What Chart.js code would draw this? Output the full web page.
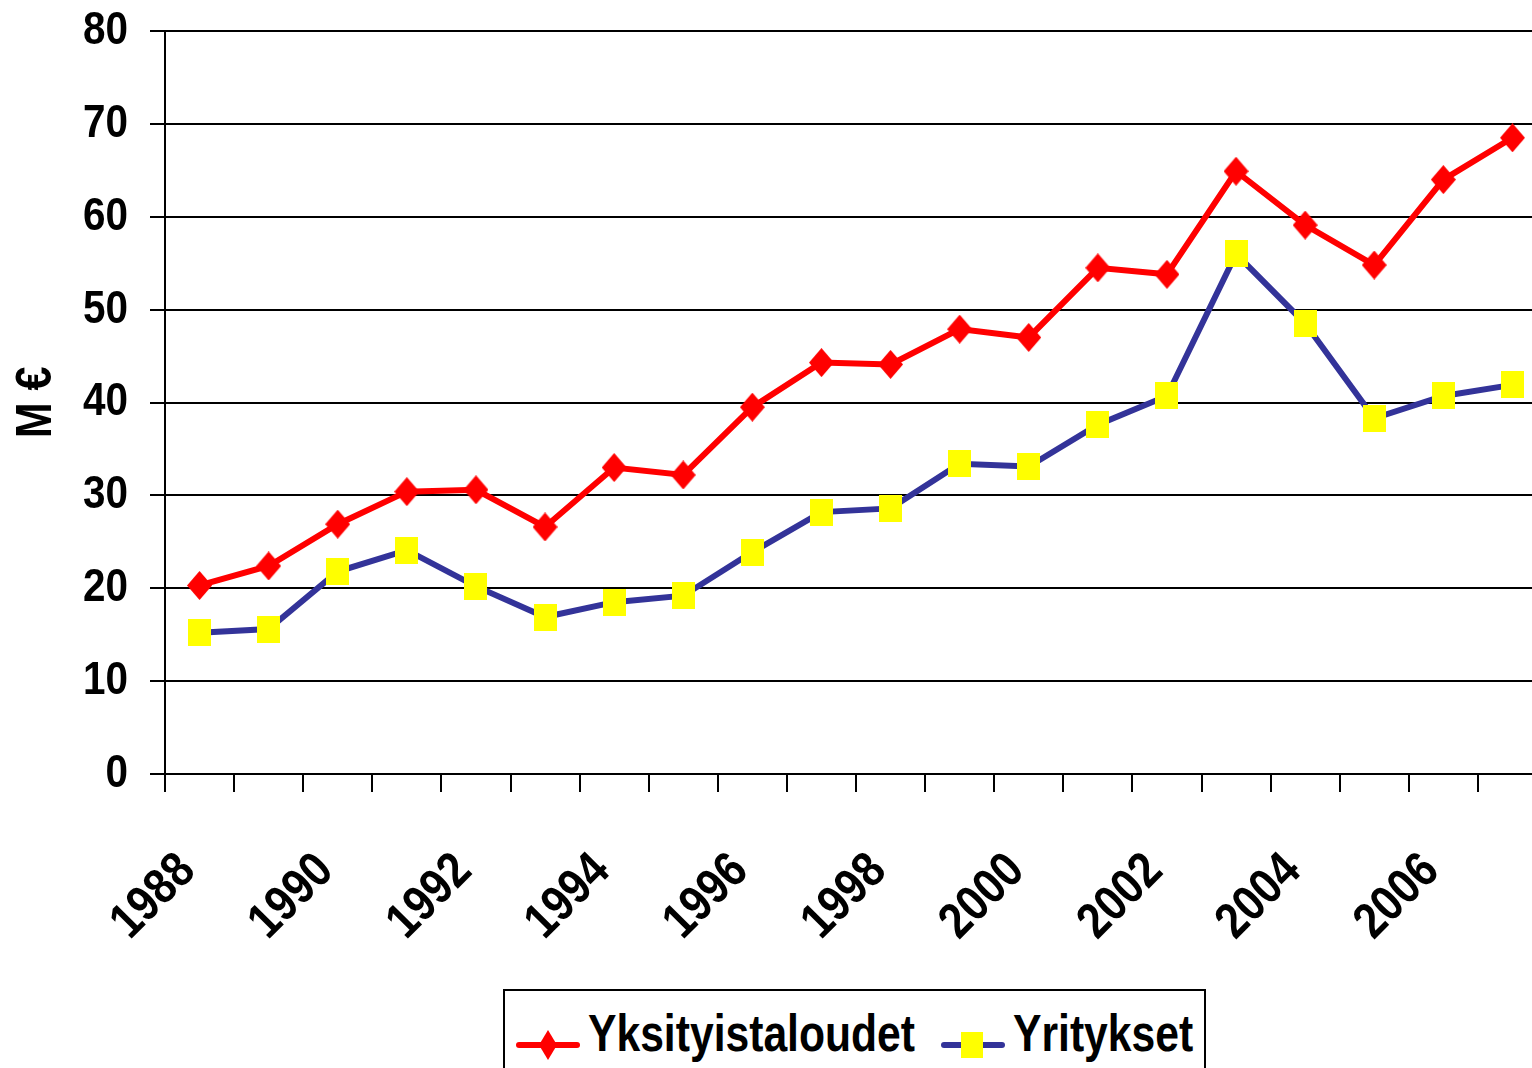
<!DOCTYPE html>
<html>
<head>
<meta charset="utf-8">
<script src="https://cdn.jsdelivr.net/npm/chart.js@4"></script>
<style>
  html, body { margin: 0; padding: 0; background: #fff; overflow: hidden; }
  #wrap { position: relative; width: 1532px; height: 1068px; overflow: hidden; }
  #chart { position: absolute; left: 0; top: 0; }
  #legend {
    position: absolute; left: 503px; top: 989px; width: 703px; height: 110px;
    border: 2px solid #000; box-sizing: border-box; background: #fff;
    font-family: 'Liberation Sans', Arial, sans-serif;
    font-weight: bold; font-size: 52px; line-height: 1;
  }
  #legend .sym { position: absolute; top: 25px; }
  #legend .txt { position: absolute; top: 16px; white-space: nowrap; color: #000;
    transform: scaleX(0.82); transform-origin: 0 0; }
</style>
</head>
<body>
<div id="wrap">
  <canvas id="chart" width="1560" height="1068"></canvas>
  <div id="legend"></div>
</div>
<script>
// vuodet ja sarjat (M€)
const years = ["1988", "1989", "1990", "1991", "1992", "1993", "1994", "1995", "1996", "1997",
  "1998", "1999", "2000", "2001", "2002", "2003", "2004", "2005", "2006", "2007"];
const yksityistaloudet = [20.3, 22.4, 26.9, 30.4, 30.6, 26.6, 33.0, 32.2, 39.5, 44.3,
  44.1, 47.9, 47.0, 54.5, 53.8, 64.9, 59.1, 54.8, 64.0, 68.5];
const yritykset = [15.2, 15.6, 21.8, 24.1, 20.2, 16.9, 18.5, 19.2, 23.9, 28.2,
  28.6, 33.4, 33.1, 37.6, 40.7, 56.0, 48.5, 38.3, 40.7, 41.9];
const seriesNames = ["Yksityistaloudet", "Yritykset"];
const yTicks = [0, 10, 20, 30, 40, 50, 60, 70, 80];

const fontFamily = "'Liberation Sans', Arial, sans-serif";
const NARROW = 0.86; // Arial Narrow -tyylinen kapea teksti

const canvas = document.getElementById("chart");
const ctx = canvas.getContext("2d");

// kavennetaan tekstiä vaakasuunnassa
const origFillText = ctx.fillText;
const origMeasure = ctx.measureText;
ctx.fillText = function (text, x, y) {
  this.save();
  this.translate(x, y);
  this.scale(NARROW, 1);
  origFillText.call(this, text, 0, 0);
  this.restore();
};
ctx.measureText = function (text) {
  const m = origMeasure.call(this, text);
  return {
    width: m.width * NARROW,
    actualBoundingBoxAscent: m.actualBoundingBoxAscent,
    actualBoundingBoxDescent: m.actualBoundingBoxDescent,
    actualBoundingBoxLeft: m.actualBoundingBoxLeft * NARROW,
    actualBoundingBoxRight: m.actualBoundingBoxRight * NARROW
  };
};

// merkit: vinoneliö ja neliö
function diamond(w, h, color) {
  const c = document.createElement("canvas");
  c.width = w; c.height = h;
  const g = c.getContext("2d");
  g.fillStyle = color;
  g.beginPath();
  g.moveTo(w / 2, 0); g.lineTo(w, h / 2); g.lineTo(w / 2, h); g.lineTo(0, h / 2);
  g.closePath(); g.fill();
  return c;
}
function box(w, h, color) {
  const c = document.createElement("canvas");
  c.width = w; c.height = h;
  const g = c.getContext("2d");
  g.fillStyle = color;
  g.fillRect(0, 0, w, h);
  return c;
}

const redMark = diamond(25, 29, "#ff0000");
const yellowMark = box(23, 27, "#ffff00");

new Chart(ctx, {
  type: "line",
  data: {
    labels: years,
    datasets: [
      {
        label: seriesNames[0],
        data: yksityistaloudet,
        borderColor: "#ff0000",
        borderWidth: 6,
        pointStyle: redMark,
        tension: 0,
        order: 2
      },
      {
        label: seriesNames[1],
        data: yritykset,
        borderColor: "#333399",
        borderWidth: 6,
        pointStyle: yellowMark,
        tension: 0,
        order: 1
      }
    ]
  },
  options: {
    responsive: false,
    animation: false,
    events: [],
    layout: { padding: { top: 31, right: 13, left: 0, bottom: 0 } },
    plugins: {
      legend: { display: false },
      tooltip: { enabled: false }
    },
    scales: {
      x: {
        offset: true,
        grid: { offset: true, drawOnChartArea: false, drawTicks: true, tickLength: 18, color: "#000", lineWidth: 2 },
        border: { display: true, color: "#000", width: 2 },
        ticks: {
          autoSkip: false,
          maxRotation: 45,
          minRotation: 45,
          padding: 50,
          labelOffset: -12,
          color: "#000",
          font: { family: fontFamily, size: 50, weight: "bold" },
          callback: function (val, i) { return i % 2 === 0 ? years[i] : ""; }
        },
        afterFit: function (scale) {
          scale.height = 294;
          scale.paddingLeft = 0; scale.paddingRight = 0;
        }
      },
      y: {
        min: 0,
        max: 80,
        afterBuildTicks: function (scale) { scale.ticks = yTicks.map(v => ({ value: v })); },
        grid: { color: "#000", lineWidth: 2, tickLength: 15 },
        border: { display: true, color: "#000", width: 2 },
        ticks: {
          padding: 22,
          color: "#000",
          font: { family: fontFamily, size: 47, weight: "bold" }
        },
        title: {
          display: true,
          text: "M €",
          color: "#000",
          padding: { top: 7, bottom: 0 },
          font: { family: fontFamily, size: 50, weight: "bold" }
        },
        afterFit: function (scale) {
          scale.width = 165;
          scale.paddingTop = 0; scale.paddingBottom = 0;
        }
      }
    }
  }
});

// selite
const legend = document.getElementById("legend");
const legendItems = [
  { name: seriesNames[0], line: "#ff0000", symX: 11, txtX: 83,
    mark: '<polygon points="32,0 41,15 32,30 23,15" fill="#ff0000"/>' },
  { name: seriesNames[1], line: "#333399", symX: 436, txtX: 508,
    mark: '<rect x="20" y="2" width="22" height="26" fill="#ffff00"/>' }
];
legendItems.forEach(function (it) {
  const s = document.createElement("div");
  s.className = "sym";
  s.style.left = it.symX + "px";
  s.innerHTML = '<svg width="64" height="30" xmlns="http://www.w3.org/2000/svg">' +
    '<line x1="3" y1="15" x2="61" y2="15" stroke="' + it.line + '" stroke-width="6" stroke-linecap="round"/>' +
    it.mark + '</svg>';
  legend.appendChild(s);
  const t = document.createElement("span");
  t.className = "txt";
  t.style.left = it.txtX + "px";
  t.textContent = it.name;
  legend.appendChild(t);
});
</script>
</body>
</html>
